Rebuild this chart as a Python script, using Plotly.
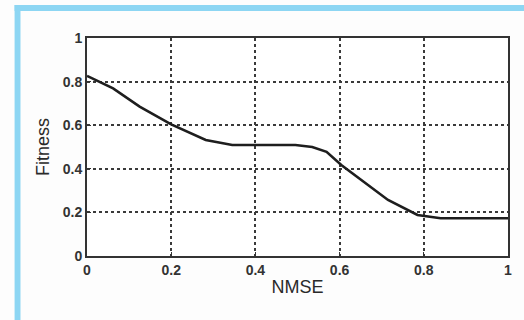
import plotly.graph_objects as go

nmse = [0.0, 0.062, 0.125, 0.2, 0.282, 0.345, 0.495, 0.535, 0.569, 0.604, 0.715, 0.762, 0.785, 0.84, 1.0]
fitness = [0.826, 0.769, 0.685, 0.604, 0.532, 0.509, 0.509, 0.5, 0.478, 0.417, 0.257, 0.211, 0.188, 0.173, 0.173]
ticks = [0, 0.2, 0.4, 0.6, 0.8, 1]
tick_text = ["<b>0</b>", "<b>0.2</b>", "<b>0.4</b>", "<b>0.6</b>", "<b>0.8</b>", "<b>1</b>"]

fig = go.Figure()
fig.add_trace(go.Scatter(x=nmse, y=fitness, mode="lines",
                         line=dict(color="#1e1e1e", width=2.6), showlegend=False))

axis_common = dict(range=[0, 1], tickvals=ticks, ticktext=tick_text,
                   showgrid=True, gridcolor="#3a3a3a", griddash="dot", gridwidth=1.6,
                   showline=True, linecolor="#333333", linewidth=2, mirror=True,
                   ticks="inside", ticklen=4, tickcolor="#333333", zeroline=False,
                   tickfont=dict(family="Liberation Sans", size=14, color="#333333"))

fig.update_xaxes(**axis_common,
                 title=dict(text="NMSE", font=dict(family="Liberation Sans", size=18, color="#2a2a2a"), standoff=4))
fig.update_yaxes(**axis_common,
                 title=dict(text="Fitness", font=dict(family="Liberation Sans", size=18, color="#2a2a2a"), standoff=8))

fig.add_shape(type="rect", xref="paper", yref="paper", x0=-0.172, x1=-0.158, y0=-0.3, y1=1.151,
              fillcolor="#8dd6f3", line_width=0, layer="below")
fig.add_shape(type="rect", xref="paper", yref="paper", x0=-0.172, x1=1.05, y0=1.124, y1=1.151,
              fillcolor="#8dd6f3", line_width=0, layer="below")

fig.update_layout(width=524, height=320, margin=dict(l=87, r=13, t=38, b=64),
                  paper_bgcolor="#fdfdfd", plot_bgcolor="#ffffff")

fig.write_html("out.html")
